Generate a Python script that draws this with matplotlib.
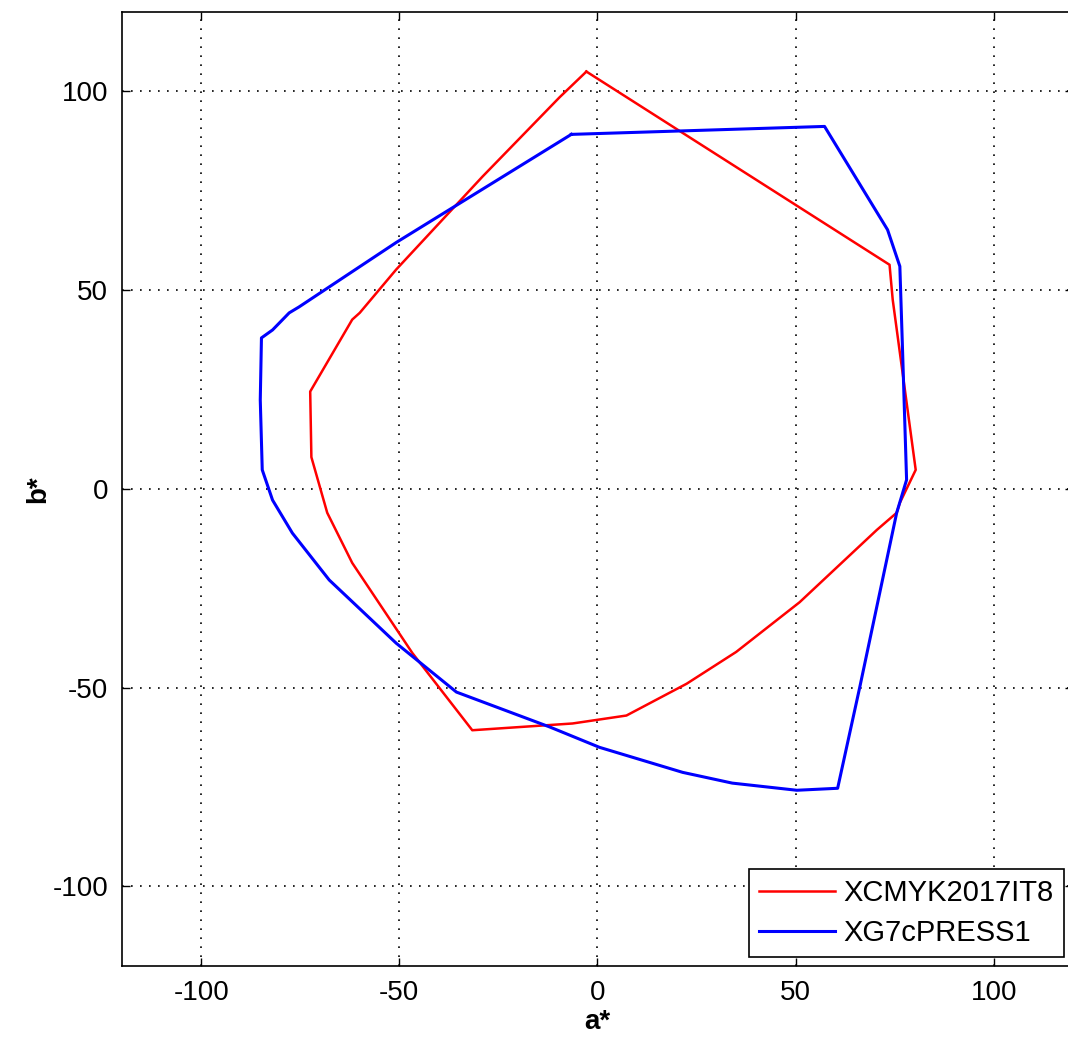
import matplotlib.pyplot as plt

# gamut outlines in a*b*
red_a = [-2.8, 73.7, 74.5, 80.3, 76.3, 75.5, 70.5, 51.0, 35.0, 22.5, 7.3, -6.3,
         -31.6, -46.7, -61.9, -68.2, -72.2, -72.5, -61.9, -60.0, -50.8, -29.0,
         -9.6, -2.8]
red_b = [105.0, 56.4, 47.6, 4.8, -3.5, -6.0, -10.3, -28.5, -41.0, -49.0, -57.0,
         -59.0, -60.7, -41.3, -18.6, -6.0, 8.0, 24.5, 42.6, 44.3, 55.2, 78.6,
         98.5, 105.0]

blue_a = [-6.6, 57.3, 73.2, 76.3, 77.0, 78.0, 75.5, 66.2, 60.6, 50.3, 34.0,
          21.5, 0.5, -12.0, -35.6, -50.8, -67.7, -77.0, -82.0, -84.6, -85.1,
          -84.8, -82.0, -77.8, -75.3, -50.8, -6.6]
blue_b = [89.2, 91.2, 65.2, 56.0, 34.3, 2.3, -6.0, -49.8, -75.3, -75.8, -74.0,
          -71.3, -65.0, -59.9, -51.1, -38.8, -22.9, -11.1, -2.8, 4.8, 22.4,
          38.0, 40.0, 44.3, 45.8, 62.0, 89.2]

labels = ["XCMYK2017IT8", "XG7cPRESS1"]
ticks = [-100, -50, 0, 50, 100]

plt.rcParams["font.family"] = ["Liberation Sans", "DejaVu Sans"]
plt.rcParams["axes.unicode_minus"] = False

fig = plt.figure(figsize=(10.68, 10.39), dpi=100)
ax = fig.add_axes([0.1142, 0.0703, 0.8905, 0.9182])

ax.plot(red_a, red_b, color="#ff0000", lw=1.8, label=labels[0])
ax.plot(blue_a, blue_b, color="#0000ff", lw=2.2, label=labels[1])

ax.set_xlim(-120, 120)
ax.set_ylim(-120, 120)
ax.set_xticks(ticks)
ax.set_yticks(ticks)
ax.grid(True, color="black", linestyle=(0, (1, 4.4)), linewidth=1.2)
ax.tick_params(direction="in", length=6, width=1, labelsize=20,
               top=True, right=True, pad=10)
for s in ax.spines.values():
    s.set_linewidth(1.2)

ax.set_xlabel("a*", fontsize=20, fontweight="bold", labelpad=2)
ax.set_ylabel("b*", fontsize=20, fontweight="bold", labelpad=1)

leg = ax.legend(loc="lower right", fontsize=21, handlelength=2.6,
                handletextpad=0.3, fancybox=False, framealpha=1,
                edgecolor="black", borderaxespad=0.3, labelspacing=0.4,
                borderpad=0.35)
leg.get_frame().set_linewidth(1.2)

fig.savefig("out.png", dpi=100)
